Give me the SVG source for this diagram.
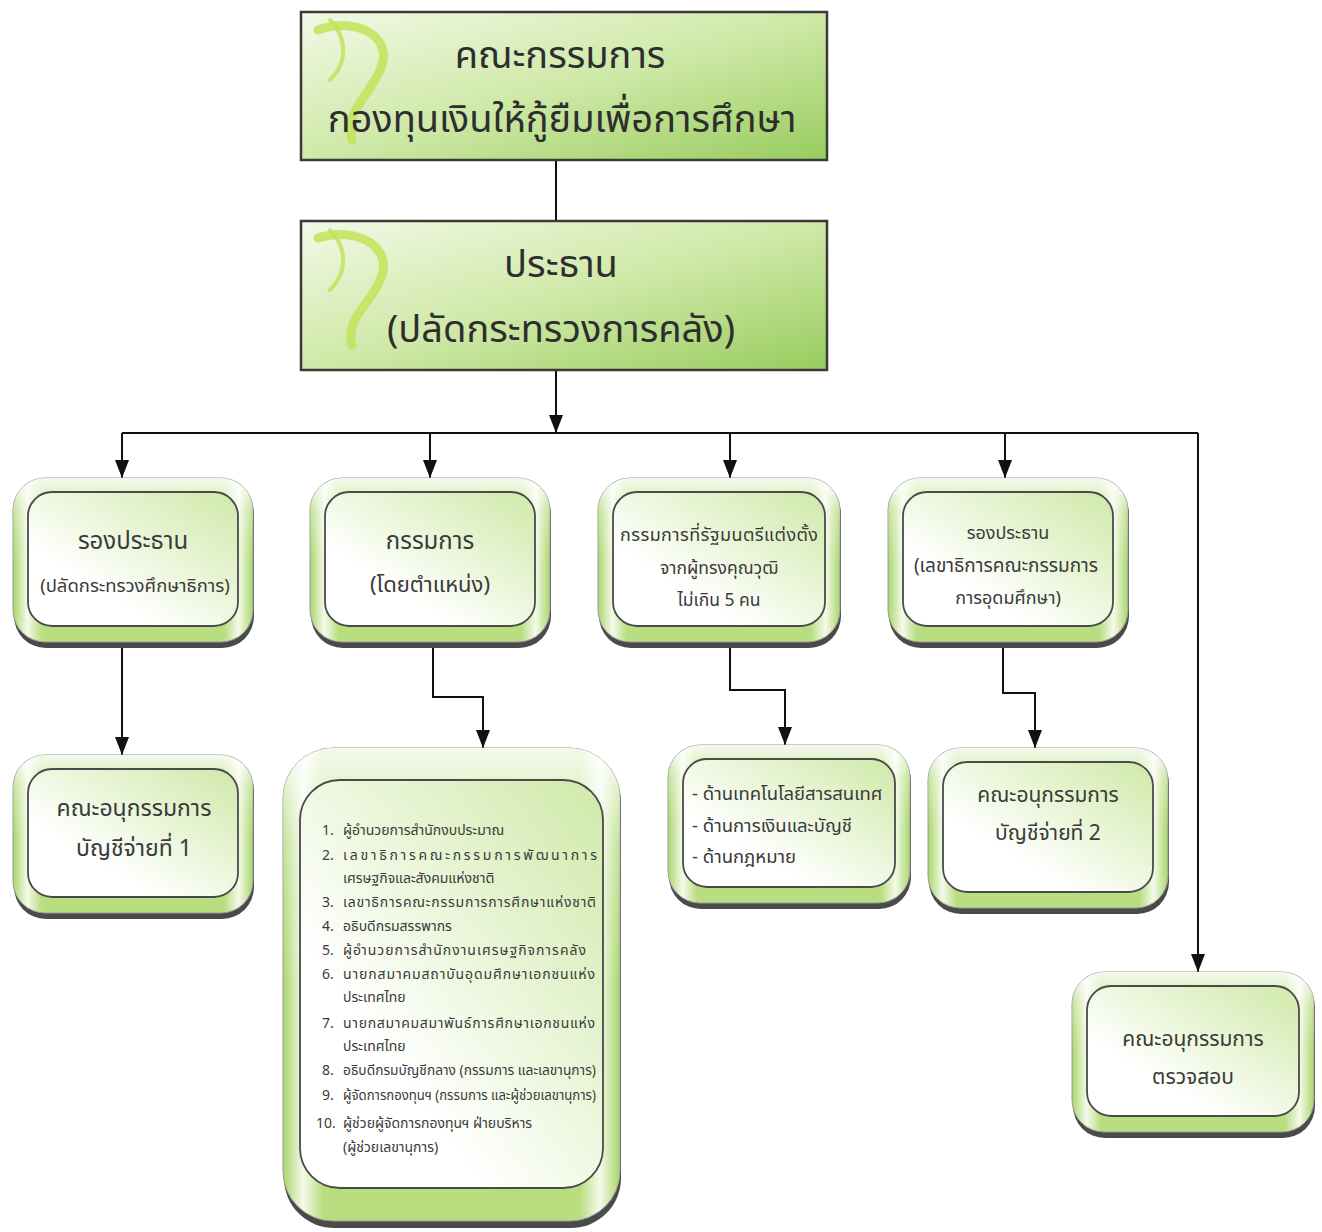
<svg xmlns="http://www.w3.org/2000/svg" width="1322" height="1232" viewBox="0 0 1322 1232">
<defs>
<style>
.t{font-family:"Noto Sans Thai","Noto Sans","DejaVu Sans",sans-serif;fill:#3a3a3a;text-anchor:middle}
.l{font-family:"Noto Sans Thai","Noto Sans","DejaVu Sans",sans-serif;fill:#3a3a3a;font-size:14px}
.e{font-family:"Noto Sans Thai","Noto Sans","DejaVu Sans",sans-serif;fill:#3a3a3a;font-size:18.5px}
.big{font-size:38px;fill:#2e2e2e}
.conn{fill:none;stroke:#111;stroke-width:2}
.topbox{fill:url(#gTop);stroke:#3a3a3a;stroke-width:2.5}
.shadow{fill:#4a4a4a}
.outer{fill:url(#gOuter);stroke:#9a9a9a;stroke-width:1}
.gloss{fill:url(#gGloss)}
.inner{fill:url(#gInner);stroke:#4a4a4a;stroke-width:1.8}
.swirl{fill:none;stroke:#c2e35a;stroke-linecap:round;opacity:0.85}
</style>
<linearGradient id="gTop" x1="0" y1="0" x2="1" y2="1">
<stop offset="0" stop-color="#f2f9e6"/>
<stop offset="0.5" stop-color="#cfe9a8"/>
<stop offset="1" stop-color="#98cc5e"/>
</linearGradient>
<linearGradient id="gOuter" x1="0" y1="0" x2="1" y2="0">
<stop offset="0" stop-color="#a9d66a"/>
<stop offset="0.06" stop-color="#f4faea"/>
<stop offset="0.12" stop-color="#b8de80"/>
<stop offset="0.88" stop-color="#b8de80"/>
<stop offset="0.94" stop-color="#f4faea"/>
<stop offset="1" stop-color="#a9d66a"/>
</linearGradient>
<linearGradient id="gGloss" x1="0" y1="0" x2="0" y2="1">
<stop offset="0" stop-color="#ffffff" stop-opacity="0.85"/>
<stop offset="0.2" stop-color="#ffffff" stop-opacity="0.3"/>
<stop offset="0.5" stop-color="#ffffff" stop-opacity="0"/>
<stop offset="1" stop-color="#ffffff" stop-opacity="0"/>
</linearGradient>
<linearGradient id="gInner" x1="1" y1="0" x2="0" y2="1">
<stop offset="0" stop-color="#cfe9a9"/>
<stop offset="0.45" stop-color="#edf7de"/>
<stop offset="0.7" stop-color="#ffffff"/>
<stop offset="1" stop-color="#ffffff"/>
</linearGradient>
<marker id="ah" viewBox="0 0 18 14" markerWidth="18" markerHeight="14" refX="18" refY="7" orient="auto" markerUnits="userSpaceOnUse">
<path d="M0,0 L18,7 L0,14 z" fill="#111"/>
</marker>
</defs>
<rect width="1322" height="1232" fill="#ffffff"/>

<g id="connectors">
<path class="conn" d="M556,160 V220"/>
<path class="conn" d="M556,370 V433" marker-end="url(#ah)"/>
<path class="conn" d="M122,433 H1198"/>
<path class="conn" d="M122,433 V478" marker-end="url(#ah)"/>
<path class="conn" d="M430,433 V478" marker-end="url(#ah)"/>
<path class="conn" d="M730,433 V478" marker-end="url(#ah)"/>
<path class="conn" d="M1005,433 V478" marker-end="url(#ah)"/>
<path class="conn" d="M1198,433 V972" marker-end="url(#ah)"/>
<path class="conn" d="M122,645 V755" marker-end="url(#ah)"/>
<path class="conn" d="M433,645 V697 H483 V748" marker-end="url(#ah)"/>
<path class="conn" d="M730,645 V690 H785 V745" marker-end="url(#ah)"/>
<path class="conn" d="M1003,645 V693 H1035 V748" marker-end="url(#ah)"/>
</g>

<g id="board">
<rect class="topbox" x="301" y="12" width="526" height="148"/>
<path class="swirl" d="M318,30 C360,15 395,40 380,70 C370,95 345,110 352,140" stroke-width="9"/>
<path class="swirl" d="M330,20 C345,35 350,60 330,80" stroke-width="4"/>
<text class="t big" x="560" y="68">คณะกรรมการ</text>
<text class="t big" x="562" y="132">กองทุนเงินให้กู้ยืมเพื่อการศึกษา</text>
</g>

<g id="chairman">
<rect class="topbox" x="301" y="221" width="526" height="149"/>
<path class="swirl" d="M318,238 C360,225 395,250 380,280 C370,305 345,318 352,345" stroke-width="9"/>
<path class="swirl" d="M330,230 C345,245 350,270 330,290" stroke-width="4"/>
<text class="t big" x="561" y="277">ประธาน</text>
<text class="t big" x="561" y="342">(ปลัดกระทรวงการคลัง)</text>
</g>

<g id="vice1">
<rect class="shadow" x="14" y="482" width="240" height="166" rx="32"/>
<rect class="outer" x="13" y="478" width="240" height="164" rx="32"/>
<rect class="gloss" x="13" y="478" width="240" height="164" rx="32"/>
<rect class="inner" x="28" y="492" width="210" height="134" rx="24"/>
<text class="t" x="133" y="549" font-size="24">รองประธาน</text>
<text class="t" x="135" y="592" font-size="18.5">(ปลัดกระทรวงศึกษาธิการ)</text>
</g>

<g id="exofficio">
<rect class="shadow" x="311" y="482" width="240" height="166" rx="32"/>
<rect class="outer" x="310" y="478" width="240" height="164" rx="32"/>
<rect class="gloss" x="310" y="478" width="240" height="164" rx="32"/>
<rect class="inner" x="325" y="492" width="210" height="134" rx="24"/>
<text class="t" x="430" y="549" font-size="24">กรรมการ</text>
<text class="t" x="430" y="592" font-size="22">(โดยตำแหน่ง)</text>
</g>

<g id="appointed">
<rect class="shadow" x="599" y="482" width="242" height="166" rx="32"/>
<rect class="outer" x="598" y="478" width="242" height="164" rx="32"/>
<rect class="gloss" x="598" y="478" width="242" height="164" rx="32"/>
<rect class="inner" x="613" y="492" width="212" height="134" rx="24"/>
<text class="t" x="719" y="541" font-size="18" textLength="198">กรรมการที่รัฐมนตรีแต่งตั้ง</text>
<text class="t" x="719" y="574" font-size="17.5">จากผู้ทรงคุณวุฒิ</text>
<text class="t" x="719" y="606" font-size="17.5">ไม่เกิน 5 คน</text>
</g>

<g id="vice2">
<rect class="shadow" x="889" y="482" width="240" height="166" rx="32"/>
<rect class="outer" x="888" y="478" width="240" height="164" rx="32"/>
<rect class="gloss" x="888" y="478" width="240" height="164" rx="32"/>
<rect class="inner" x="903" y="492" width="210" height="134" rx="24"/>
<text class="t" x="1008" y="539" font-size="18">รองประธาน</text>
<text class="t" x="1006" y="572" font-size="19">(เลขาธิการคณะกรรมการ</text>
<text class="t" x="1008" y="604" font-size="18">การอุดมศึกษา)</text>
</g>

<g id="sub1">
<rect class="shadow" x="14" y="759" width="240" height="160" rx="32"/>
<rect class="outer" x="13" y="755" width="240" height="158" rx="32"/>
<rect class="gloss" x="13" y="755" width="240" height="158" rx="32"/>
<rect class="inner" x="28" y="769" width="210" height="128" rx="24"/>
<text class="t" x="134" y="816" font-size="23">คณะอนุกรรมการ</text>
<text class="t" x="134" y="856" font-size="23">บัญชีจ่ายที่ 1</text>
</g>

<g id="members">
<rect class="shadow" x="284" y="752" width="337" height="476" rx="50"/>
<rect class="outer" x="283" y="748" width="337" height="473" rx="50"/>
<rect class="gloss" x="283" y="748" width="337" height="473" rx="50"/>
<rect class="inner" x="300" y="780" width="303" height="408" rx="40"/>
<text class="l" x="322" y="835">1.</text><text class="l" x="343" y="835">ผู้อำนวยการสำนักงบประมาณ</text>
<text class="l" x="322" y="860">2.</text><text class="l" x="343" y="860" textLength="254">เลขาธิการคณะกรรมการพัฒนาการ</text>
<text class="l" x="343" y="883">เศรษฐกิจและสังคมแห่งชาติ</text>
<text class="l" x="322" y="907">3.</text><text class="l" x="343" y="907" textLength="253">เลขาธิการคณะกรรมการการศึกษาแห่งชาติ</text>
<text class="l" x="322" y="931">4.</text><text class="l" x="343" y="931">อธิบดีกรมสรรพากร</text>
<text class="l" x="322" y="955">5.</text><text class="l" x="343" y="955" textLength="243">ผู้อำนวยการสำนักงานเศรษฐกิจการคลัง</text>
<text class="l" x="322" y="979">6.</text><text class="l" x="343" y="979" textLength="252">นายกสมาคมสถาบันอุดมศึกษาเอกชนแห่ง</text>
<text class="l" x="343" y="1002">ประเทศไทย</text>
<text class="l" x="322" y="1028">7.</text><text class="l" x="343" y="1028" textLength="252">นายกสมาคมสมาพันธ์การศึกษาเอกชนแห่ง</text>
<text class="l" x="343" y="1051">ประเทศไทย</text>
<text class="l" x="322" y="1075">8.</text><text class="l" x="343" y="1075" textLength="253" lengthAdjust="spacingAndGlyphs">อธิบดีกรมบัญชีกลาง (กรรมการ และเลขานุการ)</text>
<text class="l" x="322" y="1100">9.</text><text class="l" x="343" y="1100" textLength="253" lengthAdjust="spacingAndGlyphs">ผู้จัดการกองทุนฯ (กรรมการ และผู้ช่วยเลขานุการ)</text>
<text class="l" x="316" y="1128">10.</text><text class="l" x="343" y="1128">ผู้ช่วยผู้จัดการกองทุนฯ ฝ่ายบริหาร</text>
<text class="l" x="343" y="1152">(ผู้ช่วยเลขานุการ)</text>
</g>

<g id="experts">
<rect class="shadow" x="669" y="749" width="242" height="160" rx="32"/>
<rect class="outer" x="668" y="745" width="242" height="158" rx="32"/>
<rect class="gloss" x="668" y="745" width="242" height="158" rx="32"/>
<rect class="inner" x="683" y="759" width="212" height="128" rx="24"/>
<text class="e" x="692" y="800">- ด้านเทคโนโลยีสารสนเทศ</text>
<text class="e" x="692" y="832">- ด้านการเงินและบัญชี</text>
<text class="e" x="692" y="863">- ด้านกฎหมาย</text>
</g>

<g id="sub2">
<rect class="shadow" x="929" y="752" width="240" height="162" rx="32"/>
<rect class="outer" x="928" y="748" width="240" height="160" rx="32"/>
<rect class="gloss" x="928" y="748" width="240" height="160" rx="32"/>
<rect class="inner" x="943" y="762" width="210" height="130" rx="24"/>
<text class="t" x="1048" y="802" font-size="21">คณะอนุกรรมการ</text>
<text class="t" x="1048" y="840" font-size="21">บัญชีจ่ายที่ 2</text>
</g>

<g id="audit">
<rect class="shadow" x="1073" y="976" width="242" height="162" rx="32"/>
<rect class="outer" x="1072" y="972" width="242" height="160" rx="32"/>
<rect class="gloss" x="1072" y="972" width="242" height="160" rx="32"/>
<rect class="inner" x="1087" y="986" width="212" height="130" rx="24"/>
<text class="t" x="1193" y="1046" font-size="21">คณะอนุกรรมการ</text>
<text class="t" x="1193" y="1084" font-size="21">ตรวจสอบ</text>
</g>
</svg>
